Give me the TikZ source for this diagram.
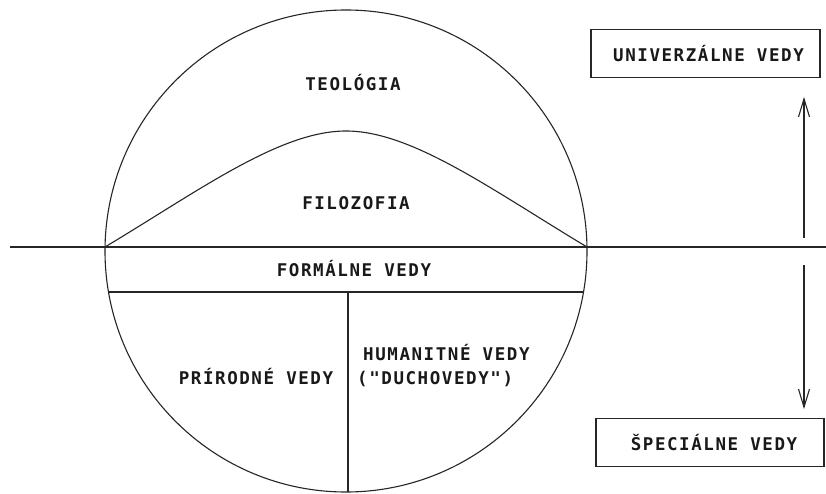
\documentclass[tikz,border=0pt]{standalone}
\usepackage{fontspec}
\setmonofont{DejaVu Sans Mono}
\newfontfamily\pixfont[LetterSpace=9]{DejaVu Sans Mono Bold}
\usetikzlibrary{arrows.meta}
\tikzset{
  ln/.style={line width=1.1pt, black!85},
  lbl/.style={font=\pixfont\fontsize{17.5}{20}\selectfont, inner sep=0pt, text=black!90},
  boxed/.style={draw, line width=1.1pt, black!85, minimum height=48pt, inner sep=0pt},
  arr/.style={ln, -{Straight Barb[length=18pt,width=11pt,line width=1.1pt]}}
}
\begin{document}
\begin{tikzpicture}[x=1pt,y=-1pt]
\useasboundingbox (0,0) rectangle (826,494);
\fill[white] (0,0) rectangle (826,494);
% circle
\coordinate (O) at (346,251);
\draw[ln] (O) circle[radius=241pt];
% main horizontal line
\coordinate (hl) at (10,247);
\coordinate (hr) at (826,247);
\draw[ln] (hl) -- (hr);
% philosophy curve
\coordinate (cl) at (105,247);
\coordinate (cp) at (346,131);
\coordinate (cr) at (587,247);
\draw[ln] (cl) .. controls (200,190) and (280,131) .. (cp)
          .. controls (412,131) and (492,190) .. (cr);
% formal band bottom line
\coordinate (bl) at (108.5,292);
\coordinate (br) at (583.5,292);
\draw[ln] (bl) -- (br);
% vertical divider
\coordinate (vt) at (348,292);
\coordinate (vb) at (348,492);
\draw[ln] (vt) -- (vb);
% labels
\node[lbl] (teo) at (353,83) {TEOLÓGIA};
\node[lbl] (fil) at (356,203) {FILOZOFIA};
\node[lbl] (form) at (354,269) {FORMÁLNE VEDY};
\node[lbl] (prir) at (256,377) {PRÍRODNÉ VEDY};
\node[lbl, anchor=west] (hum) at (363,353) {HUMANITNÉ VEDY};
\node[lbl, anchor=west] (duch) at (357,379) {("DUCHOVEDY")};
% boxes
\node[boxed, minimum width=229pt] (univ) at (705.5,53.5) {};
\node[lbl] (univt) at (708.5,54) {UNIVERZÁLNE VEDY};
\node[boxed, minimum width=228pt] (spec) at (710,442.5) {};
\node[lbl] (spect) at (714,443) {ŠPECIÁLNE VEDY};
% arrows
\coordinate (a1s) at (804,238);
\coordinate (a1e) at (804,97);
\coordinate (a2s) at (804,265);
\coordinate (a2e) at (804,409);
\draw[arr] (a1s) -- (a1e);
\draw[arr] (a2s) -- (a2e);
\end{tikzpicture}
\end{document}
